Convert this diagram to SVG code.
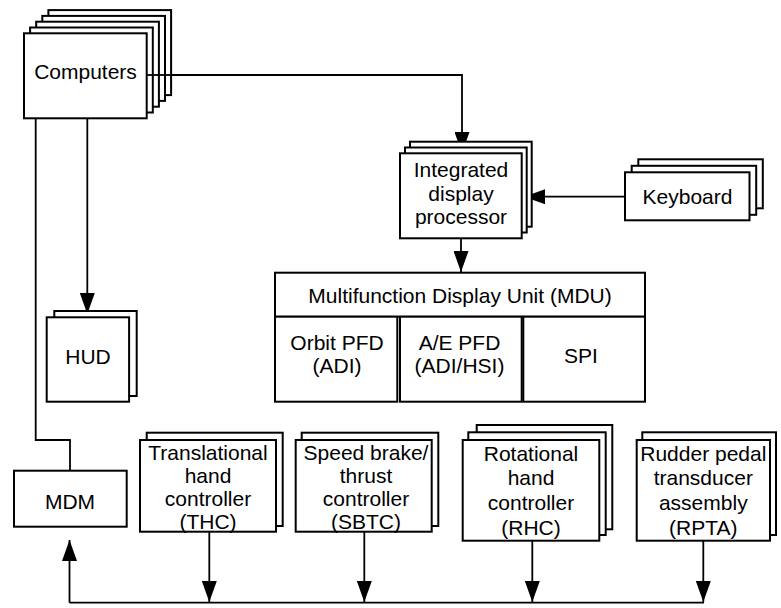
<svg xmlns="http://www.w3.org/2000/svg" width="781" height="608" viewBox="0 0 781 608">
<style>
.b{fill:#fff;stroke:#000;stroke-width:2}
.t{font-family:"Liberation Sans",Arial,Helvetica,sans-serif;font-size:21px;fill:#000;text-anchor:middle}
.c{fill:none;stroke:#000;stroke-width:1.8}
</style>
<defs>
<marker id="ah" viewBox="0 0 21 15" refX="21" refY="7.5" markerWidth="21" markerHeight="15" markerUnits="userSpaceOnUse" orient="auto">
<path d="M0,0 L21,7.5 L0,15 Z" fill="#000"/>
</marker>
</defs>
<rect width="781" height="608" fill="#fff"/>
<g id="connectors">
<path class="c" d="M146.7,75 H462 V153" marker-end="url(#ah)"/>
<path class="c" d="M87.3,118.3 V314" marker-end="url(#ah)"/>
<path class="c" d="M35.7,118.3 V440 H70 V471"/>
<path class="c" d="M625,196.7 H524" marker-end="url(#ah)"/>
<path class="c" d="M461,238.3 V272" marker-end="url(#ah)"/>
<path class="c" d="M69.5,602.7 H704"/>
<path class="c" d="M69.5,602.7 V540" marker-end="url(#ah)"/>
<path class="c" d="M209.3,531.7 V602" marker-end="url(#ah)"/>
<path class="c" d="M364.3,531.7 V602" marker-end="url(#ah)"/>
<path class="c" d="M532.3,540.7 V602" marker-end="url(#ah)"/>
<path class="c" d="M703.3,540.7 V602" marker-end="url(#ah)"/>
</g>
<g id="computers">
<rect class="b" x="48.4" y="10.1" width="122.7" height="85"/>
<rect class="b" x="42.3" y="15.9" width="122.7" height="85"/>
<rect class="b" x="36.2" y="21.7" width="122.7" height="85"/>
<rect class="b" x="30.1" y="27.5" width="122.7" height="85"/>
<rect class="b" x="24" y="33.3" width="122.7" height="85"/>
<path class="c" d="M146.7,75 H171"/>
<text class="t" x="85.5" y="79">Computers</text>
</g>
<g id="idp">
<rect class="b" x="410" y="141.7" width="121.7" height="85"/>
<rect class="b" x="405" y="147.5" width="121.7" height="85"/>
<rect class="b" x="400" y="153.3" width="121.7" height="85"/>
<text class="t" x="461" y="177.3">Integrated</text>
<text class="t" x="461" y="201">display</text>
<text class="t" x="461" y="223.5">processor</text>
</g>
<g id="keyboard">
<rect class="b" x="638.3" y="159.3" width="124.5" height="49"/>
<rect class="b" x="631.7" y="165.8" width="124.5" height="49"/>
<rect class="b" x="625" y="172.3" width="124.5" height="48"/>
<text class="t" x="687.5" y="203.5">Keyboard</text>
</g>
<g id="hud">
<rect class="b" x="54.3" y="311" width="82.4" height="85"/>
<rect class="b" x="46.7" y="317.3" width="82.4" height="84.4"/>
<text class="t" x="88" y="364.3">HUD</text>
</g>
<g id="mdu">
<rect class="b" x="275" y="272.7" width="370" height="44"/>
<rect class="b" x="275" y="316.7" width="122.3" height="85"/>
<rect class="b" x="400" y="316.7" width="121.7" height="85"/>
<rect class="b" x="523.3" y="316.7" width="121.7" height="85"/>
<text class="t" x="460" y="302.7">Multifunction Display Unit (MDU)</text>
<text class="t" x="337" y="350">Orbit PFD</text>
<text class="t" x="337" y="373.3">(ADI)</text>
<text class="t" x="459.5" y="350">A/E PFD</text>
<text class="t" x="459.5" y="373.3">(ADI/HSI)</text>
<text class="t" x="581" y="363.3">SPI</text>
</g>
<g id="mdm">
<rect class="b" x="14" y="470.7" width="112.7" height="56"/>
<text class="t" x="70" y="509.3">MDM</text>
</g>
<g id="thc">
<rect class="b" x="146.7" y="432.7" width="136" height="93.3"/>
<rect class="b" x="140" y="440" width="136" height="91.7"/>
<text class="t" x="208" y="459.5">Translational</text>
<text class="t" x="208" y="483">hand</text>
<text class="t" x="208" y="506.3">controller</text>
<text class="t" x="208" y="528.5">(THC)</text>
</g>
<g id="sbtc">
<rect class="b" x="301.7" y="432.7" width="136.6" height="93.3"/>
<rect class="b" x="295.7" y="440" width="136" height="91.7"/>
<text class="t" x="366" y="459.5">Speed brake/</text>
<text class="t" x="366" y="483">thrust</text>
<text class="t" x="366" y="506.3">controller</text>
<text class="t" x="366" y="528.5">(SBTC)</text>
</g>
<g id="rhc">
<rect class="b" x="476.7" y="425" width="135.6" height="104.3"/>
<rect class="b" x="468.3" y="432.3" width="137.4" height="102.7"/>
<rect class="b" x="462.7" y="440" width="136.6" height="100.7"/>
<text class="t" x="531" y="460.5">Rotational</text>
<text class="t" x="531" y="485">hand</text>
<text class="t" x="531" y="510">controller</text>
<text class="t" x="531" y="535">(RHC)</text>
</g>
<g id="rpta">
<rect class="b" x="642.3" y="432.3" width="133.7" height="102.7"/>
<rect class="b" x="636.7" y="440" width="133.3" height="100.7"/>
<text class="t" x="703.3" y="460.5">Rudder pedal</text>
<text class="t" x="703.3" y="485">transducer</text>
<text class="t" x="703.3" y="510">assembly</text>
<text class="t" x="703.3" y="535">(RPTA)</text>
</g>
</svg>
